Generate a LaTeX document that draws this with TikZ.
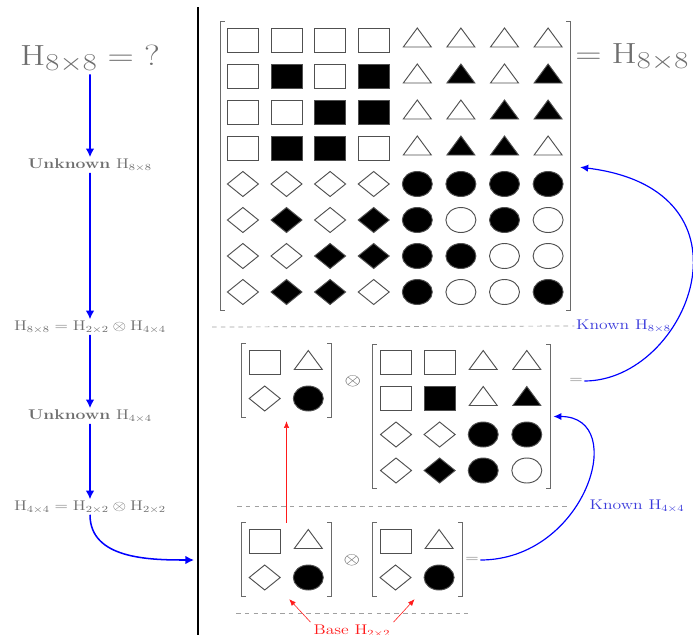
\documentclass[tikz,border=0pt]{standalone}
\usepackage{tikz}
\usetikzlibrary{arrows.meta}
\definecolor{INK}{HTML}{6E6E6E}
\definecolor{EDGE}{HTML}{505050}
\definecolor{FLOW}{HTML}{0000FF}
\definecolor{KNOWN}{HTML}{3B3BDB}
\definecolor{BASE}{HTML}{FF1A1A}
\definecolor{RULE}{HTML}{A0A0A0}

% one entry: x, y, kind (0 square, 1 triangle, 2 diamond, 3 disc), fill
\newcommand\hcell[4]{%
  \ifcase#3\relax
    \draw[cellln, fill=#4] (#1,#2) ++(-15.5,-12) rectangle ++(31,24);
  \or
    \draw[cellln, fill=#4] (#1,#2) ++(-14,-7) -- ++(28,0) -- ++(-14,19) -- cycle;
  \or
    \draw[cellln, fill=#4] (#1,#2) ++(-15.5,0) -- ++(15.5,12.5) -- ++(15.5,-12.5) -- ++(-15.5,-12.5) -- cycle;
  \else
    \draw[cellln, fill=#4] (#1,#2) ellipse (15 and 12.5);
  \fi}

% all entries of an n x n picture, centred on node #1
\newcommand\hcells[2]{%
  \pgfmathtruncatemacro\hhalf{#2/2}
  \pgfmathtruncatemacro\hlast{#2-1}
  \begin{scope}[shift={(#1.center)}]
  \foreach \r in {0,...,\hlast}{
    \foreach \c in {0,...,\hlast}{
      \pgfmathtruncatemacro\qd{2*int(\r/\hhalf)+int(\c/\hhalf)}
      \pgfmathtruncatemacro\rr{mod(\r,\hhalf)}
      \pgfmathtruncatemacro\cc{mod(\c,\hhalf)}
      \pgfmathtruncatemacro\flip{mod(mod(\rr,2)*mod(\cc,2)+int(\rr/2)*int(\cc/2),2)}
      \ifnum\qd=3 \pgfmathtruncatemacro\flip{1-\flip}\fi
      \ifnum\flip=1 \def\fc{black}\else\def\fc{white}\fi
      \pgfmathsetmacro\px{(\c-\hlast/2)*43.6}
      \pgfmathsetmacro\py{(\hlast/2-\r)*36}
      \hcell{\px}{\py}{\qd}{\fc}
    }
  }
  \end{scope}}

% square brackets round node #1
\newcommand\hbrackets[1]{%
  \draw[brkln] (#1.north west) +(4,0) -- (#1.north west) -- (#1.south west) -- +(4,0);
  \draw[brkln] (#1.north east) +(-4,0) -- (#1.north east) -- (#1.south east) -- +(-4,0);}

\begin{document}
\begin{tikzpicture}[
  x=0.03cm, y=0.03cm,
  txt/.style={xscale=1.25, text=INK, inner sep=1pt},
  lbl/.style={txt, font=\fontsize{12}{14}\selectfont},
  known/.style={lbl, text=KNOWN},
  op/.style={txt, text=EDGE, font=\fontsize{14}{16}\selectfont},
  mat/.style 2 args={inner sep=0pt, minimum width=#1, minimum height=#2},
  cellln/.style={draw=EDGE, line width=0.8pt},
  brkln/.style={draw=EDGE!85, line width=0.8pt},
  flow/.style={-{Latex[length=2.6mm, width=2.6mm]}, draw=FLOW, line width=1.3pt},
  back/.style={-{Latex[length=2.4mm, width=2.2mm]}, draw=FLOW, line width=1pt},
  basearr/.style={-{Latex[length=2mm, width=1.6mm]}, draw=BASE, line width=0.5pt},
  divider/.style={draw=RULE, dash pattern=on 4pt off 3.5pt, line width=0.6pt}
]
\useasboundingbox (0,0) rectangle (693,-634);

% split between steps and pictures
\coordinate (divtop) at (198,-7);
\coordinate (divbot) at (198,-640);
\draw[line width=2.2pt] (divtop) -- (divbot);

% steps
\node[txt, font=\fontsize{29}{33}\selectfont] (ask) at (90,-59) {$\mathrm{H}_{8\times 8} = {?}$};
\node[lbl] (un8) at (90,-165) {\textbf{Unknown} $\mathrm{H}_{8\times 8}$};
\node[lbl] (split8) at (90,-327) {$\mathrm{H}_{8\times 8} = \mathrm{H}_{2\times 2}\otimes \mathrm{H}_{4\times 4}$};
\node[lbl] (un4) at (90,-416) {\textbf{Unknown} $\mathrm{H}_{4\times 4}$};
\node[lbl] (split4) at (90,-507) {$\mathrm{H}_{4\times 4} = \mathrm{H}_{2\times 2}\otimes \mathrm{H}_{2\times 2}$};
\coordinate (entry) at (194,-560);

\draw[flow] (ask) -- (un8);
\draw[flow] (un8) -- (split8);
\draw[flow] (split8) -- (un4);
\draw[flow] (un4) -- (split4);
\draw[flow] (split4.south) to[out=-90, in=180] (entry);

% pictures
\node[mat={10.47cm}{8.64cm}] (hbig) at (395.5,-166) {};
\node[txt, font=\fontsize{29}{33}\selectfont, anchor=west, inner sep=0pt] (eq8) at (575,-57) {$= \mathrm{H}_{8\times 8}$};

\node[mat={2.67cm}{2.19cm}] (htwo) at (286.5,-380.5) {};
\node[op] (kron1) at (352.7,-381.7) {$\otimes$};
\node[mat={5.31cm}{4.29cm}] (hfour) at (461.4,-416.5) {};
\node[lbl] (eq4) at (576,-381) {$=$};

\node[mat={2.67cm}{2.19cm}] (hleft) at (286.5,-559.5) {};
\node[op] (kron2) at (351.7,-560) {$\otimes$};
\node[mat={2.67cm}{2.19cm}] (hright) at (417.3,-559.5) {};
\node[lbl] (eq2) at (472,-560) {$=$};

\foreach \m/\n in {hbig/8, htwo/2, hfour/4, hleft/2, hright/2}{
  \hcells{\m}{\n}
  \hbrackets{\m}
}

\node[known] (known8) at (623.5,-326) {Known $\mathrm{H}_{8\times 8}$};
\node[known] (known4) at (637,-506) {Known $\mathrm{H}_{4\times 4}$};
\node[lbl, text=BASE, inner sep=2pt] (base) at (352,-631) {Base $\mathrm{H}_{2\times 2}$};

\draw[divider] (212,-327) -- (known8.west);
\draw[divider] (237,-506) -- (570,-506);
\draw[divider] (236,-613) -- (468,-613);

\draw[back, shorten >=3mm] (eq4.east) .. controls +(103,0) and +(195,-24) .. (hbig.east);
\draw[back, shorten >=1mm] (eq2.east) .. controls +(105,0) and +(80,0) .. (hfour.east);
\draw[basearr, shorten >=1.2mm] (hleft.north) -- (htwo.south);
\draw[basearr, shorten >=1.2mm] (base.north west) -- (hleft.south);
\draw[basearr, shorten >=1.2mm] (base.north east) -- (hright.south);
\end{tikzpicture}
\end{document}
